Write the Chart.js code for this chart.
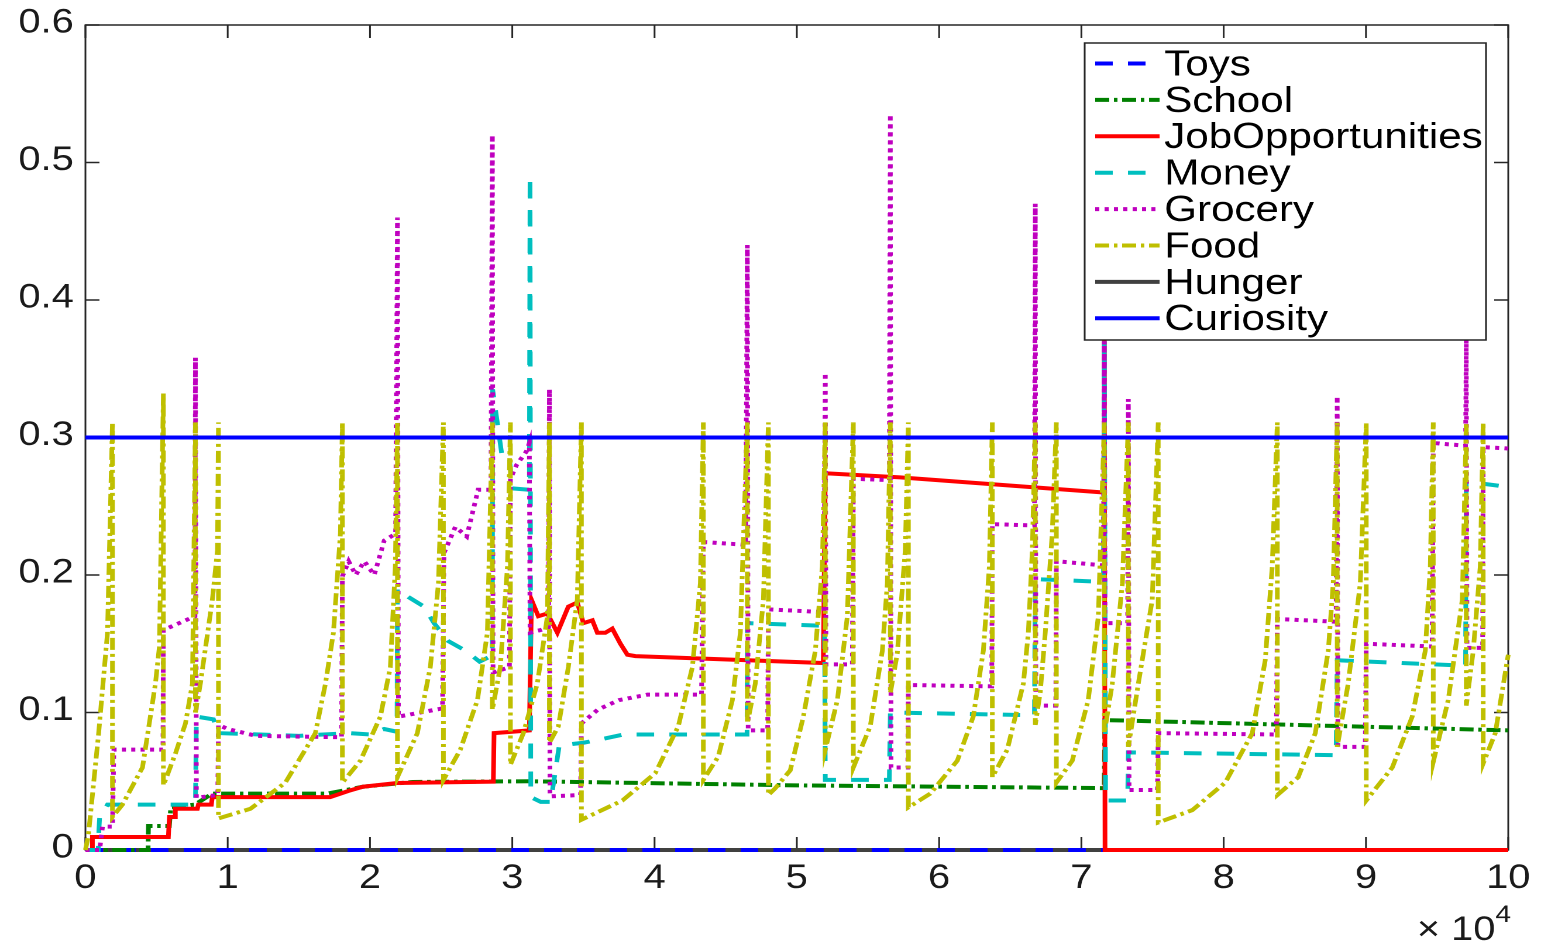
<!DOCTYPE html>
<html>
<head>
<meta charset="utf-8">
<script src="https://cdn.jsdelivr.net/npm/chart.js@4.4.0/dist/chart.umd.min.js"></script>
<style>
  html, body { margin: 0; padding: 0; background: #fff; }
</style>
</head>
<body>
<canvas id="myChart" width="1317" height="946" style="width:1541px;height:946px"></canvas>
<script>
// series as [x (x10^4), value] pairs
const toys = [[0, 0], [10, 0]]
const hunger = [[0, 0], [10, 0]]
const curiosity = [[0, 0.3], [10, 0.3]]

const school = [[0, 0], [0.44, 0], [0.443, 0.0175], [0.59, 0.0175], [0.6, 0.031], [0.77, 0.033],
  [0.89, 0.041], [1.7, 0.041], [1.95, 0.046], [2.3, 0.0495], [3.12, 0.05], [5.0, 0.047],
  [7.16, 0.045], [7.165, 0.0945], [10, 0.087]]

const jobOpportunities = [[0, 0], [0.042, 0], [0.049, 0.0095], [0.583, 0.0095], [0.59, 0.024],
  [0.625, 0.024], [0.632, 0.03], [0.787, 0.03], [0.794, 0.033], [0.885, 0.033], [0.892, 0.0385],
  [1.72, 0.0385], [1.85, 0.043], [1.95, 0.046], [2.19, 0.0487], [2.867, 0.0497], [2.872, 0.085],
  [3.0, 0.086], [3.12, 0.087], [3.135, 0.182], [3.183, 0.17], [3.247, 0.172], [3.317, 0.158],
  [3.394, 0.177], [3.457, 0.18], [3.5, 0.165], [3.563, 0.167], [3.598, 0.158], [3.654, 0.158],
  [3.703, 0.161], [3.76, 0.15], [3.809, 0.142], [3.865, 0.141], [5.186, 0.136], [5.2, 0.274],
  [5.727, 0.271], [7.155, 0.26], [7.161, 0.375], [7.166, 0], [10, 0]]

const money = [[0, 0], [0.09, 0], [0.095, 0.015], [0.1, 0.024], [0.155, 0.033], [0.773, 0.033],
  [0.78, 0.097], [0.9, 0.095], [0.935, 0.085], [1.5, 0.083], [1.85, 0.085], [2.0, 0.084],
  [2.1, 0.088], [2.19, 0.086], [2.193, 0.19], [2.27, 0.184], [2.38, 0.177], [2.45, 0.165],
  [2.55, 0.152], [2.67, 0.145], [2.77, 0.137], [2.83, 0.14], [2.86, 0.14], [2.862, 0.335],
  [2.93, 0.285], [2.98, 0.285], [3.0, 0.263], [3.12, 0.262], [3.125, 0.49], [3.13, 0.0385],
  [3.2, 0.035], [3.27, 0.035], [3.33, 0.076], [3.5, 0.078], [3.6, 0.08], [3.78, 0.084],
  [4.65, 0.084], [4.652, 0.165], [5.195, 0.163], [5.2, 0.051], [5.65, 0.051], [5.657, 0.1],
  [6.67, 0.098], [6.676, 0.197], [7.155, 0.195], [7.161, 0.37], [7.17, 0.036], [7.325, 0.036],
  [7.33, 0.071], [8.79, 0.069], [8.798, 0.138], [9.70, 0.134], [9.705, 0.268], [10, 0.264]]

const grocery = [[0, 0], [0.1, 0], [0.12, 0.017], [0.19, 0.017], [0.2, 0.073], [0.545, 0.073],
  [0.548, 0.16], [0.77, 0.17], [0.773, 0.358], [0.78, 0.038], [0.93, 0.04], [0.935, 0.091],
  [1.0, 0.088], [1.2, 0.083], [1.8, 0.082], [1.806, 0.199], [1.85, 0.21], [1.9, 0.2],
  [1.96, 0.21], [2.03, 0.2], [2.1, 0.225], [2.18, 0.23], [2.193, 0.46], [2.2, 0.097],
  [2.51, 0.103], [2.52, 0.216], [2.6, 0.235], [2.68, 0.228], [2.76, 0.262], [2.85, 0.262],
  [2.86, 0.52], [2.865, 0.129], [2.98, 0.133], [2.987, 0.27], [3.03, 0.28], [3.1, 0.29],
  [3.12, 0.296], [3.125, 0.158], [3.2, 0.16], [3.255, 0.162], [3.261, 0.335], [3.265, 0.039],
  [3.48, 0.04], [3.486, 0.092], [3.6, 0.102], [3.75, 0.109], [3.95, 0.113], [4.33, 0.113],
  [4.343, 0.224], [4.64, 0.222], [4.652, 0.44], [4.658, 0.087], [4.795, 0.087], [4.8, 0.175],
  [5.19, 0.173], [5.2, 0.347], [5.205, 0.135], [5.39, 0.135], [5.397, 0.27], [5.65, 0.269],
  [5.657, 0.535], [5.662, 0.06], [5.78, 0.06], [5.784, 0.12], [6.37, 0.119], [6.374, 0.237],
  [6.67, 0.236], [6.676, 0.47], [6.68, 0.105], [6.82, 0.105], [6.824, 0.21], [7.155, 0.207],
  [7.161, 0.37], [7.166, 0.165], [7.325, 0.165], [7.33, 0.328], [7.335, 0.0436], [7.535, 0.0436],
  [7.54, 0.085], [8.37, 0.084], [8.377, 0.168], [8.79, 0.166], [8.798, 0.33], [8.803, 0.075],
  [8.995, 0.075], [9.002, 0.15], [9.465, 0.148], [9.473, 0.296], [9.7, 0.294], [9.705, 0.371],
  [9.71, 0.147], [9.82, 0.147], [9.824, 0.293], [10, 0.292]]

const food = [[0, 0], [0.02, 0.01], [0.093, 0.085], [0.155, 0.158], [0.19, 0.311],
  [0.19, 0.024], [0.26, 0.033], [0.401, 0.06], [0.492, 0.121], [0.52, 0.148], [0.548, 0.332],
  [0.548, 0.047], [0.632, 0.07], [0.703, 0.092], [0.752, 0.121], [0.773, 0.311],
  [0.773, 0.1], [0.808, 0.121], [0.892, 0.182], [0.928, 0.218], [0.935, 0.311],
  [0.935, 0.023], [1.16, 0.03], [1.405, 0.049], [1.616, 0.085], [1.687, 0.121], [1.743, 0.158], [1.792, 0.23], [1.806, 0.311],
  [1.806, 0.049], [1.933, 0.065], [2.073, 0.097], [2.143, 0.133], [2.178, 0.206], [2.193, 0.311],
  [2.193, 0.053], [2.333, 0.085], [2.424, 0.133], [2.481, 0.194], [2.516, 0.311],
  [2.516, 0.051], [2.635, 0.073], [2.755, 0.109], [2.825, 0.158], [2.86, 0.311],
  [2.86, 0.102], [2.916, 0.133], [2.966, 0.206], [2.987, 0.311],
  [2.987, 0.062], [3.078, 0.085], [3.176, 0.121], [3.247, 0.17], [3.261, 0.311],
  [3.261, 0.078], [3.324, 0.09], [3.394, 0.133], [3.457, 0.182], [3.486, 0.311],
  [3.486, 0.022], [3.774, 0.036], [4.006, 0.056], [4.167, 0.09], [4.266, 0.133], [4.322, 0.194], [4.343, 0.311],
  [4.343, 0.051], [4.448, 0.068], [4.547, 0.109], [4.603, 0.158], [4.652, 0.311],
  [4.652, 0.092], [4.708, 0.121], [4.765, 0.182], [4.8, 0.311],
  [4.8, 0.04], [4.849, 0.045], [4.954, 0.058], [5.046, 0.097], [5.13, 0.145], [5.179, 0.206], [5.2, 0.311],
  [5.2, 0.073], [5.285, 0.109], [5.355, 0.17], [5.397, 0.311],
  [5.397, 0.06], [5.516, 0.09], [5.601, 0.145], [5.636, 0.194], [5.657, 0.311],
  [5.657, 0.114], [5.706, 0.143], [5.762, 0.218], [5.784, 0.311],
  [5.784, 0.031], [5.938, 0.041], [6.128, 0.065], [6.24, 0.097], [6.311, 0.145], [6.353, 0.206], [6.374, 0.311],
  [6.374, 0.053], [6.479, 0.073], [6.592, 0.121], [6.627, 0.158], [6.655, 0.218], [6.676, 0.311],
  [6.676, 0.091], [6.711, 0.115], [6.746, 0.158], [6.795, 0.23], [6.824, 0.311],
  [6.824, 0.049], [6.936, 0.065], [7.048, 0.109], [7.119, 0.17], [7.161, 0.311],
  [7.161, 0.085], [7.217, 0.121], [7.288, 0.194], [7.33, 0.311],
  [7.33, 0.075], [7.4, 0.121], [7.498, 0.182], [7.54, 0.311],
  [7.54, 0.02], [7.779, 0.029], [8.011, 0.049], [8.201, 0.085], [8.292, 0.138], [8.341, 0.206], [8.377, 0.311],
  [8.377, 0.04], [8.524, 0.053], [8.644, 0.085], [8.735, 0.145], [8.77, 0.194], [8.798, 0.311],
  [8.798, 0.075], [8.875, 0.121], [8.96, 0.194], [9.002, 0.311],
  [9.002, 0.036], [9.185, 0.06], [9.325, 0.097], [9.417, 0.145], [9.452, 0.206], [9.473, 0.311],
  [9.473, 0.064], [9.578, 0.109], [9.677, 0.182], [9.705, 0.311],
  [9.705, 0.105], [9.754, 0.145], [9.803, 0.206], [9.824, 0.311],
  [9.824, 0.063], [9.909, 0.085], [10, 0.142]]

const seriesNames = ['Toys', 'School', 'JobOpportunities', 'Money', 'Grocery', 'Food', 'Hunger', 'Curiosity']
const xTicks = [0, 1, 2, 3, 4, 5, 6, 7, 8, 9, 10]
const yTicks = [0, 0.1, 0.2, 0.3, 0.4, 0.5, 0.6]

function toPoints(arr) {
    return arr.map(p => ({x: p[0], y: p[1]}))
}

const dashDot = [12, 4, 3, 4]
const styles = [
    {data: toys, color: '#0000ff', dash: [15, 13]},
    {data: school, color: '#008000', dash: dashDot},
    {data: jobOpportunities, color: '#ff0000', dash: []},
    {data: money, color: '#00bfbf', dash: [15, 13]},
    {data: grocery, color: '#bf00bf', dash: [3.5, 4.5]},
    {data: food, color: '#bfbf00', dash: dashDot},
    {data: hunger, color: '#404040', dash: []},
    {data: curiosity, color: '#0000ff', dash: []}
]
// MATLAB stacks later lines on top; hunger sits under the toys dashes
const drawOrder = [8, 7, 6, 5, 4, 3, 9, 1]

Chart.defaults.font.family = '"Liberation Sans", Arial, Helvetica, sans-serif'
Chart.defaults.color = '#1a1a1a'

// box, inward ticks, legend inside the axes, x10^4 label
const matlabFrame = {
    id: 'matlabFrame',
    beforeDatasetsDraw(chart) {
        const {ctx, chartArea: a, scales} = chart
        ctx.save()
        ctx.strokeStyle = '#262626'
        ctx.lineWidth = 1.5
        ctx.strokeRect(a.left, a.top, a.right - a.left, a.bottom - a.top)
        ctx.beginPath()
        xTicks.forEach(v => {
            const px = scales.x.getPixelForValue(v)
            ctx.moveTo(px, a.bottom); ctx.lineTo(px, a.bottom - 13)
            ctx.moveTo(px, a.top); ctx.lineTo(px, a.top + 13)
        })
        yTicks.forEach(v => {
            const py = scales.y.getPixelForValue(v)
            ctx.moveTo(a.left, py); ctx.lineTo(a.left + 12, py)
            ctx.moveTo(a.right, py); ctx.lineTo(a.right - 12, py)
        })
        ctx.stroke()
        ctx.restore()
    },
    afterDraw(chart) {
        const {ctx, chartArea: a} = chart
        ctx.save()
        // legend
        const bx = 927, by = 43, bw = 343, bh = 297
        ctx.fillStyle = '#fff'
        ctx.fillRect(bx, by, bw, bh)
        ctx.strokeStyle = '#262626'
        ctx.lineWidth = 1.5
        ctx.strokeRect(bx, by, bw, bh)
        ctx.font = '36px "Liberation Sans", Arial, sans-serif'
        ctx.textBaseline = 'middle'
        ctx.textAlign = 'left'
        seriesNames.forEach((name, i) => {
            const y = 63.5 + i * 36.4
            ctx.beginPath()
            ctx.strokeStyle = styles[i].color
            ctx.lineWidth = 4
            ctx.setLineDash(styles[i].dash)
            ctx.moveTo(936, y)
            ctx.lineTo(991, y)
            ctx.stroke()
            ctx.setLineDash([])
            ctx.fillStyle = '#000'
            ctx.fillText(name, 995, y + 2)
        })
        // exponent of the x axis
        ctx.fillStyle = '#1a1a1a'
        ctx.textBaseline = 'alphabetic'
        ctx.textAlign = 'right'
        ctx.font = '34px "Liberation Sans", Arial, sans-serif'
        ctx.fillText('\u00d7 10', a.right - 11, 940)
        ctx.textAlign = 'left'
        ctx.font = '24px "Liberation Sans", Arial, sans-serif'
        ctx.fillText('4', a.right - 11, 922)
        ctx.restore()
    }
}

const ctx = document.getElementById('myChart')
const myChart = new Chart(ctx, {
    type: 'line',
    data: {
        datasets: styles.map((s, i) => ({
            label: seriesNames[i],
            data: toPoints(s.data),
            borderColor: s.color,
            backgroundColor: s.color,
            borderWidth: 4,
            borderDash: s.dash,
            pointRadius: 0,
            tension: 0,
            fill: false,
            clip: 6,
            order: drawOrder[i]
        }))
    },
    options: {
        responsive: false,
        animation: false,
        devicePixelRatio: 2,
        layout: {padding: {top: 25, right: 28, bottom: 0, left: 0}},
        plugins: {legend: {display: false}, tooltip: {enabled: false}},
        scales: {
            x: {
                type: 'linear',
                min: 0,
                max: 10,
                grid: {display: false, drawTicks: false},
                border: {display: false},
                ticks: {stepSize: 1, padding: 8, maxRotation: 0, font: {size: 34}, color: '#1a1a1a'},
                afterFit(scale) {
                    scale.height = 96
                    scale.paddingLeft = 0
                    scale.paddingRight = 0
                }
            },
            y: {
                min: 0,
                max: 0.6,
                grid: {display: false, drawTicks: false},
                border: {display: false},
                ticks: {
                    stepSize: 0.1,
                    padding: 10,
                    labelOffset: -2,
                    font: {size: 34},
                    color: '#1a1a1a',
                    callback: v => v === 0 ? '0' : v.toFixed(1)
                },
                afterFit(scale) {
                    scale.width = 73
                    scale.paddingTop = 0
                    scale.paddingBottom = 0
                }
            }
        }
    },
    plugins: [matlabFrame]
})
</script>
</body>
</html>
